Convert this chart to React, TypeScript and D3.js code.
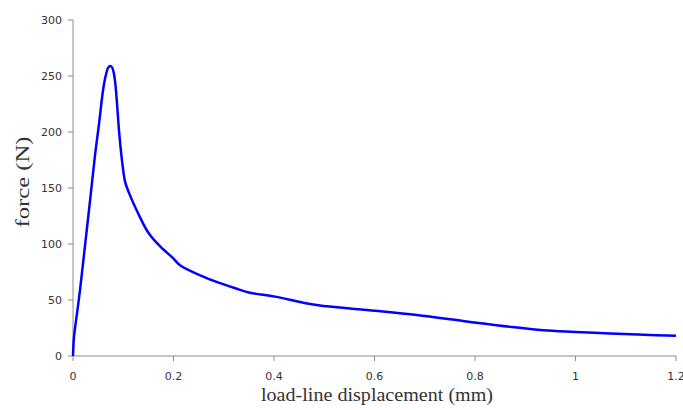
import { useMemo } from "react";
import * as d3 from "d3";

const WIDTH = 683;
const HEIGHT = 410;
const MARGIN = { top: 20, right: 7, bottom: 54, left: 73 };

// load-line displacement (mm)
const displacement = [
  0, 0.002, 0.008, 0.014, 0.024, 0.034, 0.044, 0.052, 0.06, 0.066, 0.07, 0.074, 0.078,
  0.081, 0.084, 0.087, 0.092, 0.099, 0.104, 0.112, 0.13, 0.15, 0.173, 0.2, 0.213, 0.253,
  0.293, 0.326, 0.352, 0.402, 0.485, 0.601, 0.684, 0.787, 0.87, 0.936, 1.0, 1.069, 1.135,
  1.2,
];
// force (N)
const force = [
  0, 17, 38, 59, 99, 139, 180, 208, 238, 252, 257.5, 259, 257.5, 253, 244, 229, 199, 169,
  155, 145, 127, 110, 98, 87, 81, 72, 65, 60, 56.5, 53, 45.5, 40.5, 36.6, 30.6, 26, 23,
  21.5, 20, 19, 18,
];

const xTicks = [0, 0.2, 0.4, 0.6, 0.8, 1, 1.2];
const yTicks = [0, 50, 100, 150, 200, 250, 300];

const AXIS_COLOR = "#8c8c8c";
const TEXT_COLOR = "#333333";

export default function App() {
  const boundsWidth = WIDTH - MARGIN.left - MARGIN.right;
  const boundsHeight = HEIGHT - MARGIN.top - MARGIN.bottom;

  const xScale = useMemo(() => d3.scaleLinear().domain([0, 1.2]).range([0, boundsWidth]), [boundsWidth]);
  const yScale = useMemo(() => d3.scaleLinear().domain([0, 300]).range([boundsHeight, 0]), [boundsHeight]);

  const points = displacement.map((d, i) => [d, force[i]] as [number, number]);
  const linePath = d3
    .line<[number, number]>()
    .x((d) => xScale(d[0]))
    .y((d) => yScale(d[1]))
    .curve(d3.curveCatmullRom.alpha(0.5))(points);

  return (
    <svg
      width={WIDTH}
      height={HEIGHT}
      style={{ position: "absolute", left: 0, top: 0, background: "white" }}
    >
      <g transform={`translate(${MARGIN.left},${MARGIN.top})`}>
        {/* y axis */}
        <line x1={0} x2={0} y1={0} y2={boundsHeight} stroke={AXIS_COLOR} strokeWidth={1} />
        {yTicks.map((t) => (
          <g key={t} transform={`translate(0,${yScale(t)})`}>
            <line x1={-5} x2={0} stroke={AXIS_COLOR} />
            <text
              x={-11}
              dy="0.35em"
              textAnchor="end"
              fontFamily="DejaVu Sans, sans-serif"
              fontSize={11}
              fill={TEXT_COLOR}
            >
              {t}
            </text>
          </g>
        ))}
        {/* x axis */}
        <line x1={0} x2={boundsWidth} y1={boundsHeight} y2={boundsHeight} stroke={AXIS_COLOR} />
        {xTicks.map((t) => (
          <g key={t} transform={`translate(${xScale(t)},${boundsHeight})`}>
            <line y1={0} y2={5} stroke={AXIS_COLOR} />
            <text
              y={24}
              textAnchor="middle"
              fontFamily="DejaVu Sans, sans-serif"
              fontSize={11}
              fill={TEXT_COLOR}
            >
              {t}
            </text>
          </g>
        ))}
        <path d={linePath ?? ""} fill="none" stroke="#0000ff" strokeWidth={2.5} strokeLinejoin="round" />
      </g>
      <text
        x={377}
        y={401}
        textAnchor="middle"
        fontFamily="Liberation Serif, serif"
        fontSize={18}
        textLength={232}
        lengthAdjust="spacingAndGlyphs"
        fill={TEXT_COLOR}
      >
        load-line displacement (mm)
      </text>
      <text
        transform="translate(29,182) rotate(-90)"
        textAnchor="middle"
        fontFamily="Liberation Serif, serif"
        fontSize={18}
        textLength={91}
        lengthAdjust="spacingAndGlyphs"
        fill={TEXT_COLOR}
      >
        force (N)
      </text>
    </svg>
  );
}
